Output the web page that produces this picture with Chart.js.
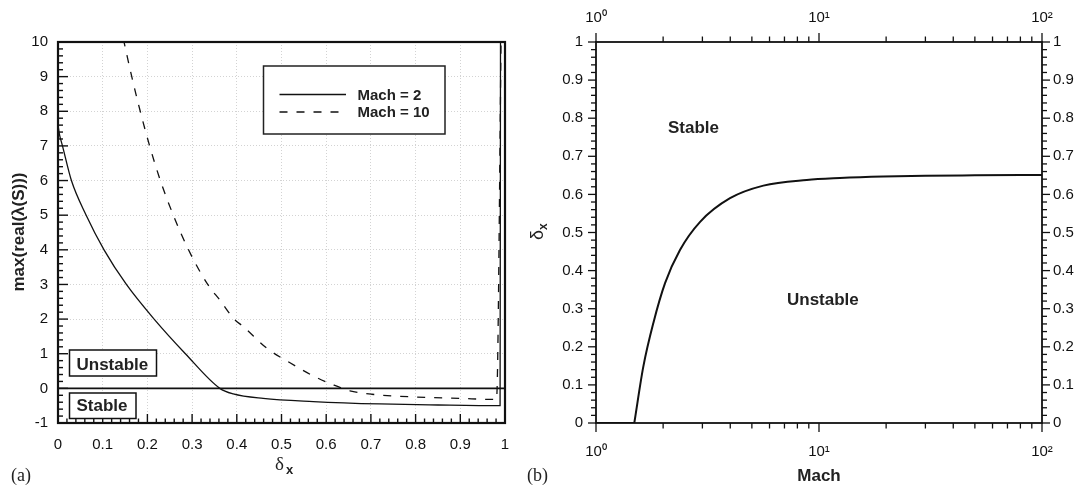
<!DOCTYPE html>
<html><head><meta charset="utf-8">
<script src="https://cdn.jsdelivr.net/npm/chart.js@4/dist/chart.umd.min.js"></script>
<style>
html,body{margin:0;padding:0;background:#fff;overflow:hidden;width:1083px;height:487px}
#wa{position:absolute;left:0;top:0;width:520px;height:487px}
#wb{position:absolute;left:520px;top:0;width:563px;height:487px}
</style></head><body>
<div id="wa"><canvas id="ca"></canvas></div>
<div id="wb"><canvas id="cb"></canvas></div>
<script>
// ---------- data (panel a) ----------
const seriesLabels = ['Mach = 2', 'Mach = 10'];
const deltaM2  = [0, 0.003, 0.01, 0.03, 0.063, 0.103, 0.153, 0.215, 0.285, 0.362, 0.392, 0.459, 0.571, 0.72, 0.85, 0.989, 0.990];
const lambdaM2 = [7.6, 7.35, 7.0, 6.0, 5.0, 4.0, 3.0, 2.0, 1.0, 0.0, -0.16, -0.29, -0.38, -0.45, -0.48, -0.50, 11];
const deltaM10  = [0.146, 0.165, 0.184, 0.205, 0.229, 0.258, 0.292, 0.335, 0.362, 0.394, 0.415, 0.467, 0.519, 0.571, 0.616, 0.653, 0.702, 0.8, 0.9, 0.981, 0.992];
const lambdaM10 = [10.1, 9.0, 8.0, 7.0, 6.0, 5.0, 4.0, 3.0, 2.55, 2.0, 1.78, 1.16, 0.74, 0.36, 0.10, -0.07, -0.17, -0.25, -0.29, -0.32, 11];
const zeroLineX = [0, 1];
const zeroLineY = [0, 0];
const regionLabelsA = ['Unstable', 'Stable'];
// ---------- data (panel b) ----------
const machFlat  = [1, 1.485];
const deltaFlat = [0, 0];
const machB  = [1.485, 1.63, 1.807, 2.04, 2.38, 2.93, 3.99, 5.63, 8.81, 12.4, 19.4, 30, 50, 100];
const deltaB = [0, 0.148, 0.262, 0.367, 0.454, 0.528, 0.590, 0.623, 0.638, 0.643, 0.647, 0.649, 0.650, 0.651];
const logTickValues = [1, 10, 100];
const logTickLabels = ['10\u2070', '10\u00B9', '10\u00B2'];
const regionLabelsB = ['Stable', 'Unstable'];

const SANS = '"Liberation Sans", Arial, Helvetica, sans-serif';
const SERIF = '"Liberation Serif", "Times New Roman", serif';
Chart.defaults.font.family = SANS;
Chart.defaults.color = '#111';

const pts = (xs, ys) => xs.map((x, i) => ({x: x, y: ys[i]}));
const numFmt = v => String(Number(Number(v).toFixed(3)));

function line(ctx, x1, y1, x2, y2) { ctx.beginPath(); ctx.moveTo(x1, y1); ctx.lineTo(x2, y2); ctx.stroke(); }
const fixH = h => s => { s.height = h; s.paddingLeft = 0; s.paddingRight = 0; };
const fixW = w => s => { s.width = w; s.paddingTop = 0; s.paddingBottom = 0; };

// ---------- panel a ----------
const decorA = {
  id: 'decorA',
  afterDatasetsDraw(chart) {
    const ctx = chart.ctx, a = chart.chartArea;
    const xs = chart.scales.x, ys = chart.scales.y;
    ctx.save();
    ctx.strokeStyle = '#111'; ctx.fillStyle = '#111';
    ctx.lineWidth = 2.2;
    ctx.strokeRect(a.left, a.top, a.right - a.left, a.bottom - a.top);
    ctx.lineWidth = 1.4;
    for (let i = 0; i <= 55; i++) {
      const p = ys.getPixelForValue(-1 + i * 0.2);
      const len = (i % 5 === 0) ? 10 : 5;
      line(ctx, a.left, p, a.left + len, p);
    }
    for (let i = 0; i <= 50; i++) {
      const p = xs.getPixelForValue(i * 0.02);
      const len = (i % 5 === 0) ? 9 : 4.5;
      line(ctx, p, a.bottom, p, a.bottom - len);
    }
    // region boxes
    ctx.lineWidth = 1.5;
    ctx.font = 'bold 17px ' + SANS;
    ctx.textBaseline = 'alphabetic'; ctx.textAlign = 'left';
    ctx.fillStyle = '#fff';
    ctx.fillRect(69.5, 350, 87, 26); ctx.strokeRect(69.5, 350, 87, 26);
    ctx.fillRect(69.5, 393, 66.5, 25.5); ctx.strokeRect(69.5, 393, 66.5, 25.5);
    ctx.fillStyle = '#222';
    ctx.fillText(regionLabelsA[0], 76.5, 369.5);
    ctx.fillText(regionLabelsA[1], 76.5, 411);
    // legend
    ctx.fillStyle = '#fff';
    ctx.fillRect(263.5, 66, 181.5, 68);
    ctx.strokeStyle = '#222'; ctx.lineWidth = 1.5;
    ctx.strokeRect(263.5, 66, 181.5, 68);
    const dsets = chart.data.datasets.filter(d => d.isSeries);
    const ly = [94.5, 112];
    dsets.forEach((d, i) => {
      ctx.save();
      ctx.strokeStyle = d.borderColor; ctx.lineWidth = d.borderWidth;
      ctx.setLineDash(d.borderDash || []);
      line(ctx, 279.5, ly[i], 346, ly[i]);
      ctx.restore();
      ctx.fillStyle = '#222';
      ctx.font = 'bold 15px ' + SANS;
      ctx.fillText(d.label, 357.5, ly[i] + 5.3);
    });
    // y title
    ctx.save();
    ctx.translate(24, 232);
    ctx.rotate(-Math.PI / 2);
    ctx.textAlign = 'center';
    ctx.font = 'bold 17px ' + SANS;
    ctx.fillStyle = '#222';
    ctx.fillText('max(real(\u03BB(S)))', 0, 0);
    ctx.restore();
    // x title
    ctx.fillStyle = '#222';
    ctx.font = '19px ' + SERIF;
    ctx.textAlign = 'left';
    ctx.fillText('\u03B4', 275, 470);
    ctx.font = 'bold 13px ' + SANS;
    ctx.fillText('x', 286, 474);
    ctx.font = '18px ' + SERIF;
    ctx.fillText('(a)', 11, 481);
    ctx.restore();
  }
};

const gridA = {color: '#d3d3d3', lineWidth: 1, drawTicks: false};
new Chart(document.getElementById('ca'), {
  type: 'line',
  data: {
    datasets: [
      {label: 'zero', data: pts(zeroLineX, zeroLineY), borderColor: '#111', borderWidth: 1.8, pointRadius: 0, isSeries: false},
      {label: seriesLabels[0], data: pts(deltaM2, lambdaM2), borderColor: '#111', borderWidth: 1.3, pointRadius: 0, cubicInterpolationMode: 'monotone', isSeries: true},
      {label: seriesLabels[1], data: pts(deltaM10, lambdaM10), borderColor: '#111', borderWidth: 1.3, borderDash: [8, 9], pointRadius: 0, cubicInterpolationMode: 'monotone', isSeries: true}
    ]
  },
  options: {
    responsive: true, maintainAspectRatio: false, animation: false, devicePixelRatio: 1,
    layout: {padding: {top: 42, right: 15, left: 0, bottom: 0}},
    plugins: {legend: {display: false}, tooltip: {enabled: false}},
    scales: {
      x: {type: 'linear', min: 0, max: 1, position: 'bottom',
          ticks: {stepSize: 0.1, callback: numFmt, font: {size: 15}, padding: 13, maxRotation: 0, autoSkip: false},
          grid: gridA, border: {display: false, dash: [1, 2]}, afterFit: fixH(64)},
      y: {type: 'linear', min: -1, max: 10, position: 'left',
          ticks: {stepSize: 1, callback: numFmt, font: {size: 15}, padding: 10, autoSkip: false},
          grid: gridA, border: {display: false, dash: [1, 2]}, afterFit: fixW(58)}
    }
  },
  plugins: [decorA]
});

// ---------- panel b ----------
const decorB = {
  id: 'decorB',
  afterDatasetsDraw(chart) {
    const ctx = chart.ctx, a = chart.chartArea;
    const xs = chart.scales.x, ys = chart.scales.y;
    ctx.save();
    ctx.strokeStyle = '#111'; ctx.fillStyle = '#111';
    ctx.lineWidth = 1.8;
    ctx.strokeRect(a.left, a.top, a.right - a.left, a.bottom - a.top);
    ctx.lineWidth = 1.3;
    for (let i = 0; i <= 50; i++) {
      const p = ys.getPixelForValue(i * 0.02);
      const len = (i % 5 === 0) ? 8 : 5;
      line(ctx, a.left, p, a.left - len, p);
      line(ctx, a.right, p, a.right + len, p);
    }
    [1, 10].forEach(k => {
      for (let m = 1; m <= 9; m++) {
        const p = xs.getPixelForValue(m * k);
        const len = (m === 1) ? 9 : 5.5;
        line(ctx, p, a.bottom, p, a.bottom + len);
        line(ctx, p, a.top, p, a.top - len);
      }
    });
    const p100 = xs.getPixelForValue(100);
    line(ctx, p100, a.bottom, p100, a.bottom + 9);
    line(ctx, p100, a.top, p100, a.top - 9);
    ctx.fillStyle = '#222';
    ctx.font = 'bold 17px ' + SANS;
    ctx.textAlign = 'left'; ctx.textBaseline = 'alphabetic';
    ctx.fillText(regionLabelsB[0], a.left + 72, 133);
    ctx.fillText(regionLabelsB[1], a.left + 191, 305);
    ctx.textAlign = 'center';
    ctx.font = 'bold 17px ' + SANS;
    ctx.fillText('Mach', xs.getPixelForValue(10), 481);
    ctx.save();
    ctx.translate(23, 232);
    ctx.rotate(-Math.PI / 2);
    ctx.textAlign = 'left';
    ctx.font = '18px ' + SANS;
    ctx.fillText('\u03B4', -8, 0);
    ctx.font = 'bold 12px ' + SANS;
    ctx.fillText('x', 2, 4);
    ctx.restore();
    ctx.textAlign = 'left';
    ctx.font = '18px ' + SERIF;
    ctx.fillText('(b)', 7, 481);
    ctx.restore();
  }
};

const logCb = v => { const i = logTickValues.indexOf(Number(v)); return i >= 0 ? logTickLabels[i] : ''; };
const noGrid = {display: false, drawTicks: false};
new Chart(document.getElementById('cb'), {
  type: 'line',
  data: {
    datasets: [
      {label: 'flat', data: pts(machFlat, deltaFlat), borderColor: '#111', borderWidth: 2, pointRadius: 0},
      {label: 'boundary', data: pts(machB, deltaB), borderColor: '#111', borderWidth: 2, pointRadius: 0, cubicInterpolationMode: 'monotone'}
    ]
  },
  options: {
    responsive: true, maintainAspectRatio: false, animation: false, devicePixelRatio: 1,
    layout: {padding: 0},
    plugins: {legend: {display: false}, tooltip: {enabled: false}},
    scales: {
      x: {type: 'logarithmic', min: 1, max: 100, position: 'bottom',
          ticks: {callback: logCb, font: {size: 15}, padding: 20, maxRotation: 0, minRotation: 0, autoSkip: false},
          grid: noGrid, border: {display: false}, afterFit: fixH(64)},
      x2: {type: 'logarithmic', min: 1, max: 100, position: 'top',
          ticks: {callback: logCb, font: {size: 15}, padding: 15, maxRotation: 0, minRotation: 0, autoSkip: false},
          grid: noGrid, border: {display: false}, afterFit: fixH(42)},
      y: {type: 'linear', min: 0, max: 1, position: 'left',
          ticks: {stepSize: 0.1, callback: numFmt, font: {size: 15}, padding: 13, autoSkip: false},
          grid: noGrid, border: {display: false}, afterFit: fixW(76)},
      y2: {type: 'linear', min: 0, max: 1, position: 'right',
          ticks: {stepSize: 0.1, callback: numFmt, font: {size: 15}, padding: 11, autoSkip: false},
          grid: noGrid, border: {display: false}, afterFit: fixW(41)}
    }
  },
  plugins: [decorB]
});
</script>
</body></html>
